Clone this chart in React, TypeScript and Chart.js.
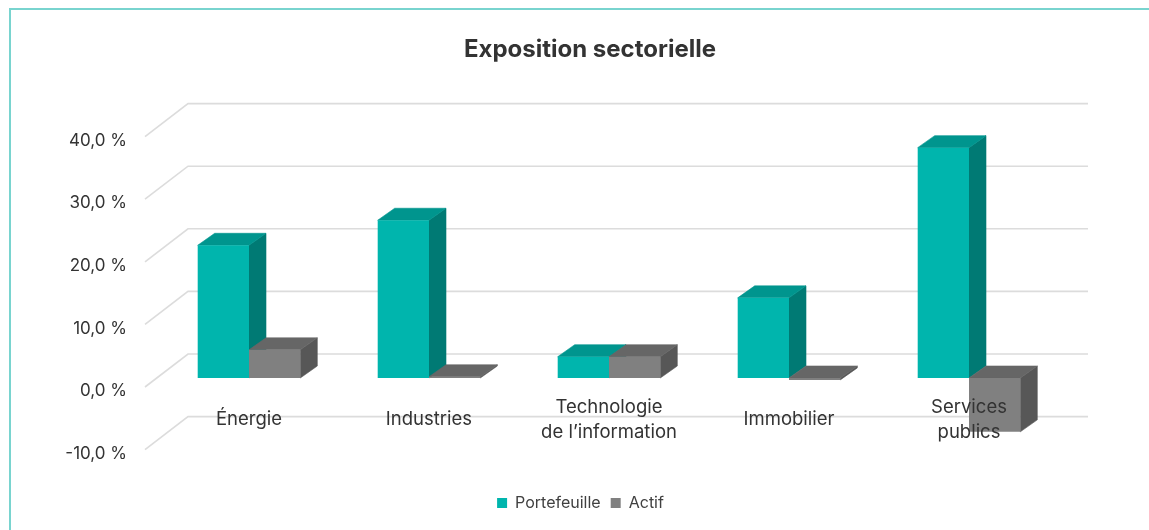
import React, { useEffect, useRef } from "react";
import { Chart, registerables, CategoryScale } from "chart.js";

Chart.register(...registerables);

// Category axis whose labels are not clipped to the axis box, so they can sit on the 3D floor.
class CategoryNoClip extends CategoryScale {
  static id = "categoryNoClip";
  static defaults = (CategoryScale as any).defaults;
  _computeLabelArea(): any {
    return undefined;
  }
}
Chart.register(CategoryNoClip as any);

const categories: (string | string[])[] = [
  "Énergie",
  "Industries",
  ["Technologie", "de l’information"],
  "Immobilier",
  ["Services", "publics"],
];
const portefeuille = [21.2, 25.2, 3.4, 12.8, 36.8];
const actif = [4.5, 0.2, 3.4, -0.3, -8.6];
const tickValues = [-10, 0, 10, 20, 30, 40];
const seriesNames = ["Portefeuille", "Actif"];

const FONT = "Inter, 'Noto Sans', sans-serif";
const frontColors = ["#00B5AD", "#808080"];
const sideColors = ["#007A74", "#575757"];
const topColors = ["#00958E", "#666666"];
const DX = 17;
const DY = -12;

const framePlugin = {
  id: "frame",
  beforeDraw(chart: any) {
    const ctx = chart.ctx;
    ctx.save();
    ctx.fillStyle = "#ffffff";
    ctx.fillRect(0, 0, chart.width, chart.height);
    ctx.strokeStyle = "#79d4cf";
    ctx.lineWidth = 2;
    ctx.beginPath();
    ctx.moveTo(10, chart.height);
    ctx.lineTo(10, 9);
    ctx.lineTo(chart.width, 9);
    ctx.stroke();
    ctx.restore();
  },
  afterLayout(chart: any) {
    if (chart.titleBlock) {
      chart.titleBlock.left += 60.5;
      chart.titleBlock.right += 60.5;
    }
    if (chart.legend) {
      chart.legend.left += 51;
      chart.legend.right += 51;
    }
  },
};

const threeDPlugin = {
  id: "threeD",
  beforeDatasetsDraw(chart: any) {
    const ctx = chart.ctx;
    const { left, right } = chart.chartArea;
    const ys = chart.scales.y;
    ctx.save();
    // back wall and side wall grid lines
    ctx.strokeStyle = "#dcdcdc";
    ctx.lineWidth = 1.6;
    for (const v of tickValues) {
      const py = ys.getPixelForValue(v);
      ctx.beginPath();
      ctx.moveTo(left - 14, py + 9);
      ctx.lineTo(left + 29, py - 24);
      ctx.lineTo(right + 29, py - 24);
      ctx.stroke();
    }
    // top and side faces of each bar
    const n = categories.length;
    for (let i = 0; i < n; i++) {
      for (let d = 0; d < 2; d++) {
        const bar = chart.getDatasetMeta(d).data[i];
        if (!bar) continue;
        const { x, y, base, width } = bar.getProps(["x", "y", "base", "width"], true);
        const l = x - width / 2;
        const r = x + width / 2;
        const yt = Math.min(y, base);
        const yb = Math.max(y, base);
        ctx.lineWidth = 0.6;
        ctx.fillStyle = sideColors[d];
        ctx.strokeStyle = sideColors[d];
        ctx.beginPath();
        ctx.moveTo(r, yt);
        ctx.lineTo(r + DX, yt + DY);
        ctx.lineTo(r + DX, yb + DY);
        ctx.lineTo(r, yb);
        ctx.closePath();
        ctx.fill();
        ctx.stroke();
        ctx.fillStyle = topColors[d];
        ctx.strokeStyle = topColors[d];
        ctx.beginPath();
        ctx.moveTo(l, yt);
        ctx.lineTo(l + DX, yt + DY);
        ctx.lineTo(r + DX, yt + DY);
        ctx.lineTo(r, yt);
        ctx.closePath();
        ctx.fill();
        ctx.stroke();
      }
    }
    ctx.restore();
  },
};

export default function App() {
  const canvasRef = useRef<HTMLCanvasElement | null>(null);

  useEffect(() => {
    if (!canvasRef.current) return;
    const chart = new Chart(canvasRef.current, {
      type: "bar",
      data: {
        labels: categories,
        datasets: [
          {
            label: seriesNames[0],
            data: portefeuille,
            backgroundColor: frontColors[0],
            borderWidth: 0,
            categoryPercentage: 0.57,
            barPercentage: 1,
          },
          {
            label: seriesNames[1],
            data: actif,
            backgroundColor: frontColors[1],
            borderWidth: 0,
            categoryPercentage: 0.57,
            barPercentage: 1,
          },
        ],
      },
      options: {
        responsive: false,
        animation: false,
        devicePixelRatio: 1,
        layout: { padding: { left: 0, right: 90, top: 0, bottom: 9 } },
        plugins: {
          title: {
            display: true,
            text: "Exposition sectorielle",
            color: "#333333",
            font: { family: FONT, size: 24, weight: "bold", lineHeight: 1.2 },
            padding: { top: 35.6, bottom: 63.2 },
          },
          legend: {
            display: true,
            position: "bottom",
            labels: {
              boxWidth: 10,
              boxHeight: 10,
              padding: 10,
              color: "#404040",
              font: { family: FONT, size: 16 },
            },
          },
          tooltip: { enabled: false },
        },
        scales: {
          x: {
            type: "categoryNoClip" as any,
            offset: true,
            grid: { display: false, drawTicks: false, offset: true },
            border: { display: false },
            ticks: {
              z: 1,
              color: "#333333",
              font: { family: FONT, size: 18.5, lineHeight: 1.35 },
              padding: -33.6,
              crossAlign: "center",
              maxRotation: 0,
              minRotation: 0,
              autoSkip: false,
            },
            afterFit: (s: any) => {
              s.height = 44.4;
            },
          },
          y: {
            min: -10,
            max: 40,
            grid: { display: false, drawTicks: false },
            border: { display: false },
            ticks: {
              stepSize: 10,
              color: "#333333",
              font: { family: FONT, size: 17 },
              padding: 32,
              labelOffset: 13,
              callback: (v: any) => Number(v).toFixed(1).replace(".", ",") + " %",
            },
            afterFit: (s: any) => {
              s.width = 159;
            },
          },
        },
      } as any,
      plugins: [framePlugin, threeDPlugin],
    });
    return () => chart.destroy();
  }, []);

  return (
    <div style={{ position: "absolute", left: 0, top: 0, width: 1149, height: 530 }}>
      <canvas ref={canvasRef} width={1149} height={530} />
    </div>
  );
}
